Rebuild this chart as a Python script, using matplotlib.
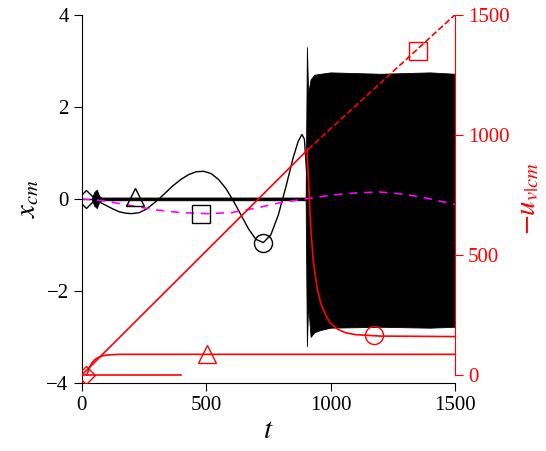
import matplotlib
matplotlib.use("Agg")
import matplotlib.pyplot as plt

plt.rcParams["font.family"] = ["Liberation Serif", "DejaVu Serif"]
plt.rcParams["mathtext.fontset"] = "stix"
plt.rcParams["font.size"] = 15

# black: smooth trajectory (left axis)
t_smooth = [50, 75, 100, 125, 150, 175, 200, 230, 260, 295, 330, 365, 400, 430, 460, 490, 520, 550,
            580, 610, 640, 670, 700, 730, 760, 790, 820, 850, 870, 885, 895, 905, 915]
x_smooth = [0.0, -0.08, -0.15, -0.22, -0.28, -0.31, -0.32, -0.3, -0.22, -0.07, 0.1, 0.28, 0.43, 0.53, 0.59,
            0.6, 0.55, 0.42, 0.22, -0.05, -0.35, -0.65, -0.88, -0.95, -0.78, -0.35, 0.25, 0.9, 1.25, 1.4, 1.3, 0.5, -0.6]
# magenta dashed (left axis)
t_mag = [0, 100, 200, 300, 400, 500, 600, 700, 800, 900, 1000, 1100, 1200, 1300, 1400, 1500]
x_mag = [0.0, -0.05, -0.15, -0.24, -0.3, -0.32, -0.3, -0.2, -0.08, 0.0, 0.08, 0.13, 0.15, 0.1, 0.0, -0.12]
# noisy line envelope (left axis)
t_noise = [40, 50, 60, 70, 80, 900, 905, 910, 920, 935, 960, 1000, 1200, 1400, 1500]
x_noise_hi = [0.02, 0.15, 0.2, 0.06, 0.03, 0.03, 3.3, 2.3, 2.6, 2.7, 2.72, 2.75, 2.72, 2.75, 2.72]
x_noise_lo = [-0.02, -0.15, -0.2, -0.06, -0.03, -0.03, -3.2, -2.3, -3.0, -2.9, -2.85, -2.8, -2.78, -2.8, -2.78]

# red (right axis)
t_lin = [0, 910]
u_lin = [0, 940]
t_lin_d = [910, 1500]
u_lin_d = [940, 1500]
t_dec = [905, 912, 920, 930, 945, 960, 980, 1000, 1030, 1060, 1100, 1200, 1500]
u_dec = [940, 800, 620, 480, 370, 300, 250, 215, 190, 176, 168, 162, 160]
t_tri = [20, 30, 40, 50, 60, 80, 100, 150, 1500]
u_tri = [0, 30, 50, 62, 70, 79, 83, 86, 86]
t_flat = [0, 400]
u_flat = [0, 0]

fig = plt.figure(figsize=(5.46, 4.51), dpi=100)
ax = fig.add_axes([0.150, 0.151, 0.683, 0.816])
ax.fill_between(t_noise, x_noise_lo, x_noise_hi, color="black", lw=0.6)
ax.plot([0, 1500], [0, 0], color="black", lw=1.0)
ax.plot(t_smooth, x_smooth, color="black", lw=1.0)
ax.plot(t_mag, x_mag, color="magenta", lw=1.2, ls="--", dashes=(5, 4))
mk = dict(mfc="none", ms=13, mew=1.0, ls="none")
ax.plot([15], [0], marker="D", mec="black", ms=9, mfc="none", mew=1.0, ls="none")
ax.plot([215], [0.05], marker="^", mec="black", **mk)
ax.plot([480], [-0.32], marker="s", mec="black", **mk)
ax.plot([730], [-0.95], marker="o", mec="black", **mk)
ax.set_xlim(0, 1500)
ax.set_ylim(-4, 4)
ax.set_xticks([0, 500, 1000, 1500])
ax.set_yticks([-4, -2, 0, 2, 4])
ax.set_yticklabels(["\u22124", "\u22122", "0", "2", "4"])
ax.set_xlabel("$t$", fontsize=21, labelpad=2)
ax.set_ylabel("$x_{cm}$", fontsize=21, labelpad=4)
ax.spines["top"].set_visible(False)
ax.spines["right"].set_visible(False)
ax.tick_params(direction="out", length=6)

ax2 = ax.twinx()
ax2.plot(t_lin, u_lin, color="red", lw=1.2)
ax2.plot(t_lin_d, u_lin_d, color="red", lw=1.2, ls="--")
ax2.plot(t_dec, u_dec, color="red", lw=1.2)
ax2.plot(t_tri, u_tri, color="red", lw=1.2)
ax2.plot(t_flat, u_flat, color="red", lw=1.2)
ax2.plot([15], [0], marker="D", mec="red", ms=9, mfc="none", mew=1.0, ls="none")
ax2.plot([505], [86], marker="^", mec="red", **mk)
ax2.plot([1175], [165], marker="o", mec="red", **mk)
ax2.plot([1350], [1350], marker="s", mec="red", **mk)
ax2.set_ylim(-33, 1500)
ax2.set_yticks([0, 500, 1000, 1500])
ax2.set_ylabel("$-u_{v|cm}$", color="red", fontsize=21, labelpad=4)
ax2.spines["top"].set_visible(False)
ax2.spines["left"].set_visible(False)
ax2.spines["bottom"].set_visible(False)
ax2.spines["right"].set_color("red")
ax2.tick_params(axis="y", colors="red", direction="out", length=6)
ax2.spines["right"].set_bounds(0, 1500)

fig.savefig("out.png", dpi=100)
